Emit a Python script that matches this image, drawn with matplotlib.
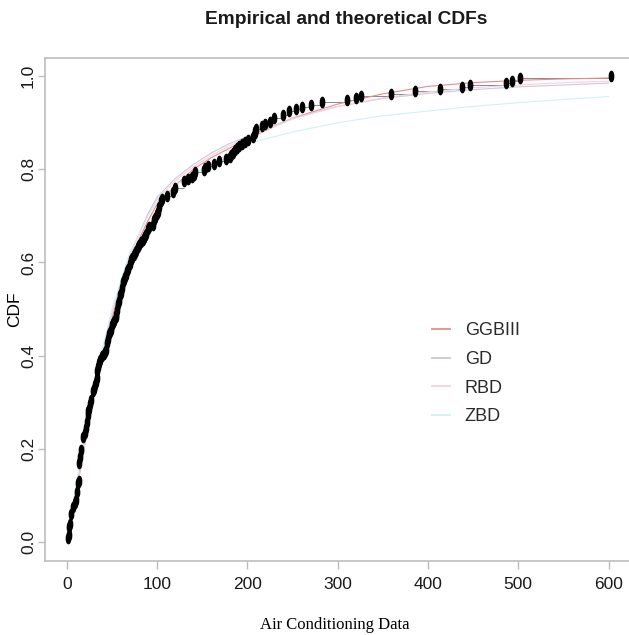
import numpy as np
import matplotlib
matplotlib.use("Agg")
import matplotlib.pyplot as plt
from matplotlib.path import Path
from matplotlib.transforms import Affine2D

# air conditioning failure intervals (213 obs)
aircon = [194, 413, 90, 74, 55, 23, 97, 50, 359, 50,
          130, 487, 102, 15, 14, 10, 57, 320, 261, 51,
          44, 9, 254, 493, 18, 209, 41, 58, 60, 48,
          56, 87, 11, 102, 12, 5, 100, 14, 29, 37,
          186, 29, 104, 7, 4, 72, 270, 283, 7, 57,
          33, 100, 61, 502, 220, 120, 141, 22, 603, 35,
          98, 54, 181, 65, 49, 12, 239, 14, 18, 39,
          3, 12, 5, 32, 9, 14, 70, 47, 62, 142,
          3, 104, 85, 67, 169, 24, 21, 246, 47, 68,
          15, 2, 91, 59, 447, 56, 29, 176, 225, 77,
          197, 438, 43, 134, 184, 20, 386, 182, 71, 80,
          188, 230, 152, 36, 79, 59, 33, 246, 1, 79,
          3, 27, 201, 84, 27, 21, 16, 88, 130, 14,
          118, 44, 15, 42, 106, 46, 230, 59, 153, 104,
          20, 206, 5, 66, 34, 29, 26, 35, 5, 82,
          5, 61, 31, 118, 326, 12, 54, 36, 34, 18,
          25, 120, 31, 22, 18, 156, 11, 216, 139, 67,
          310, 3, 46, 210, 57, 76, 14, 111, 97, 62,
          26, 71, 39, 30, 7, 44, 11, 63, 23, 22,
          23, 14, 18, 13, 34, 62, 11, 191, 14, 16,
          18, 130, 90, 163, 208, 1, 24, 70, 16, 101,
          52, 208, 95]

# fitted cdfs, sampled on a grid
grid_x = [0, 10, 20, 30, 40, 50, 60, 70, 80, 90, 100, 120, 140, 160, 180,
          200, 250, 300, 350, 400, 450, 500, 550, 600]
cdf_ggbiii = [0, .10, .21, .31, .40, .48, .55, .61, .65, .69, .725, .765, .80,
              .825, .845, .865, .91, .94, .962, .978, .986, .991, .994, .996]
cdf_gd = [0, .11, .22, .32, .41, .49, .56, .62, .66, .705, .74, .78, .81,
          .835, .855, .87, .91, .935, .952, .963, .971, .977, .981, .985]
cdf_rbd = [0, .10, .21, .32, .41, .49, .555, .615, .66, .70, .735, .775, .805,
           .83, .85, .868, .908, .935, .953, .966, .975, .981, .986, .989]
cdf_zbd = [0, .12, .23, .33, .42, .50, .56, .62, .66, .70, .73, .765, .79,
           .81, .835, .855, .88, .90, .915, .925, .935, .943, .95, .956]

model_names = ["GGBIII", "GD", "RBD", "ZBD"]
model_cols = ["#e98a8f", "#cdc6dc", "#f2d3dd", "#d3f0f2"]

plt.rcParams["font.family"] = ["Liberation Sans", "DejaVu Sans"]
frame_col = "#bdbdbd"

fig = plt.figure(figsize=(6.29, 6.35), dpi=100)
ax = fig.add_axes([45 / 629, 1 - 560.6 / 635, 588 / 629, 503.1 / 635])

# empirical cdf: horizontal steps + points
xs, counts = np.unique(aircon, return_counts=True)
Fn = np.cumsum(counts) / len(aircon)
ax.hlines(Fn[:-1], xs[:-1], xs[1:], color="#777777", lw=0.6, zorder=2)

# points look like tall ellipses
ell = Path.unit_circle().transformed(Affine2D().scale(0.42, 1.0))
ax.plot(xs, Fn, ls="none", marker=ell, ms=7.4, color="black", zorder=4)

fit_lines = []
for vals, name, col in zip([cdf_ggbiii, cdf_gd, cdf_rbd, cdf_zbd],
                           model_names, model_cols):
    ln, = ax.plot(grid_x, vals, color=col, lw=0.8, label=name, zorder=3)
    fit_lines.append(ln)

ax.set_xlim(-24.12, 627.12)
ax.set_ylim(-0.04, 1.04)
ax.set_xticks(range(0, 601, 100))
ax.set_yticks([0, .2, .4, .6, .8, 1.0])
ax.set_yticklabels(["0.0", "0.2", "0.4", "0.6", "0.8", "1.0"])
ax.tick_params(axis="both", colors=frame_col, labelcolor="#1a1a1a",
               labelsize=12.5, width=1)
ax.tick_params(axis="x", length=6, pad=6)
ax.tick_params(axis="y", length=5, pad=1.5)
for lab in ax.get_yticklabels():
    lab.set_rotation(90)
    lab.set_va("center")
for s in ax.spines.values():
    s.set_color(frame_col)
    s.set_linewidth(1.2)

ax.set_xlabel("Air Conditioning Data", family="Liberation Serif",
              fontsize=12)
ax.xaxis.set_label_coords(335 / 629, 1 - 625 / 635, transform=fig.transFigure)
ax.set_ylabel("CDF", fontsize=12.5)
ax.yaxis.set_label_coords(15 / 629, 1 - 309 / 635, transform=fig.transFigure)
ax.xaxis.label.set_va("center")
ax.yaxis.label.set_va("center")

fig.text(346 / 629, 1 - 20 / 635, "Empirical and theoretical CDFs",
         ha="center", va="center", fontsize=13.8, fontweight="bold",
         color="#1a1a1a")

leg = ax.legend(handles=fit_lines, labels=model_names, loc="upper left",
                bbox_to_anchor=(416 / 629, 1 - 306 / 635),
                bbox_transform=fig.transFigure, frameon=False, fontsize=13,
                handlelength=1.0, handletextpad=0.8, labelspacing=0.65)
for t in leg.get_texts():
    t.set_color("#2a2a2a")
for h, col in zip(leg.get_lines(), model_cols):
    h.set_color(col)
    h.set_linewidth(1.3)

fig.savefig("out.png", dpi=100)
